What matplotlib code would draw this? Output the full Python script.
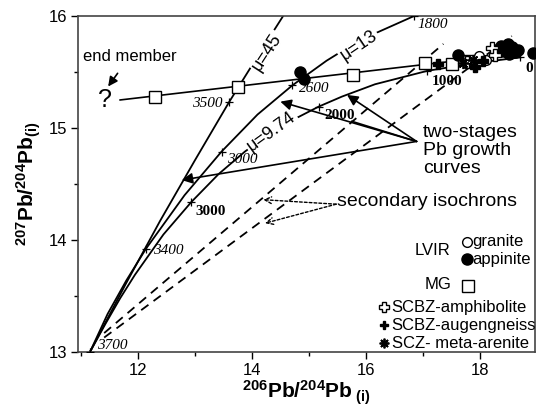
import matplotlib
matplotlib.use("Agg")
import matplotlib.pyplot as plt
from matplotlib.ticker import MultipleLocator

plt.rcParams["font.family"] = ["Liberation Sans", "DejaVu Sans"]
plt.rcParams["mathtext.fontset"] = "custom"
plt.rcParams["mathtext.rm"] = "Liberation Sans"
plt.rcParams["mathtext.it"] = "Liberation Sans:italic"
plt.rcParams["mathtext.bf"] = "Liberation Sans:bold"

# ---------- Pb growth curves (206Pb/204Pb, 207Pb/204Pb) ----------
mu45_x = [11.15, 11.77, 12.38, 12.99, 13.59, 14.19, 14.54]
mu45_y = [13.00, 13.60, 14.17, 14.71, 15.23, 15.72, 16.00]

mu13_x = [11.15, 11.46, 11.79, 12.13, 12.81, 13.46, 14.09, 14.70, 15.30, 15.87, 16.84]
mu13_y = [13.00, 13.34, 13.64, 13.92, 14.40, 14.79, 15.12, 15.38, 15.60, 15.78, 16.00]

mu974_x = [11.15, 11.42, 11.68, 11.94, 12.44, 12.93, 13.41, 13.87, 14.31, 14.74,
           15.16, 15.57, 16.15, 17.07, 17.92, 18.70]
mu974_y = [13.00, 13.25, 13.48, 13.69, 14.05, 14.34, 14.59, 14.79, 14.95, 15.08,
           15.19, 15.28, 15.39, 15.51, 15.58, 15.63]

# age ticks on the curves (Ma)
ages_it = ["3700", "3500", "3400", "3000", "2600", "1800"]
ages_it_x = [11.15, 13.59, 12.13, 13.46, 14.70, 16.84]
ages_it_y = [13.00, 15.23, 13.92, 14.79, 15.38, 16.00]
ages_bf = ["3000", "2000", "1000", "0"]
ages_bf_x = [12.93, 15.16, 17.07, 18.70]
ages_bf_y = [14.34, 15.19, 15.51, 15.63]

# secondary isochrons
iso1_x = [11.40, 17.35]
iso1_y = [13.17, 15.75]
iso2_x = [11.40, 18.55]
iso2_y = [13.13, 15.82]

# mixing line towards the unknown end member
mix_x = [11.68, 18.60]
mix_y = [15.25, 15.66]

# ---------- samples ----------
mg_x = [12.29, 13.74, 15.77, 17.03, 17.50, 17.80]
mg_y = [15.28, 15.37, 15.47, 15.58, 15.57, 15.60]

granite_x = [17.98, 18.10, 18.35]
granite_y = [15.64, 15.61, 15.68]

appinite_x = [14.84, 14.90, 17.61, 18.28, 18.36, 18.42, 18.48, 18.55, 18.60, 18.66, 18.50, 18.93]
appinite_y = [15.50, 15.44, 15.65, 15.70, 15.73, 15.69, 15.75, 15.72, 15.68, 15.70, 15.66, 15.67]

amphib_x = [17.76, 18.20, 18.26]
amphib_y = [15.59, 15.71, 15.65]

augen_x = [17.26, 17.91, 18.05]
augen_y = [15.57, 15.54, 15.60]

arenite_x = [17.70, 17.87]
arenite_y = [15.58, 15.61]

fig = plt.figure(figsize=(5.45, 4.08), dpi=100)
ax = fig.add_axes([0.143, 0.137, 0.839, 0.824])

lw = 1.3
ax.plot(mu45_x, mu45_y, color="black", lw=lw, zorder=2)
ax.plot(mu13_x, mu13_y, color="black", lw=lw, zorder=2)
ax.plot(mu974_x, mu974_y, color="black", lw=lw, zorder=2)
ax.plot(iso1_x, iso1_y, color="black", lw=1.3, ls=(0, (5, 3.5)), zorder=2)
ax.plot(iso2_x, iso2_y, color="black", lw=1.3, ls=(0, (5, 3.5)), zorder=2)
ax.plot(mix_x, mix_y, color="black", lw=1.2, zorder=2)

# age crosses
ax.plot(ages_it_x, ages_it_y, "+", color="black", ms=6, mew=0.9, zorder=3)
ax.plot(ages_bf_x, ages_bf_y, "+", color="black", ms=6, mew=0.9, zorder=3)

it_offsets = [(5, 5), (-5, -1), (5, -1), (4, -6), (5, -2), (2, -6)]
it_ha = ["left", "right", "left", "left", "left", "left"]
for lab, x, y, off, ha in zip(ages_it, ages_it_x, ages_it_y, it_offsets, it_ha):
    ax.annotate(lab, (x, y), xytext=off, textcoords="offset points", ha=ha, va="center",
                family="Liberation Serif", style="italic", fontsize=11, zorder=4)

bf_offsets = [(3, -7), (4, -6), (3, -8), (6, -8)]
bf_ha = ["left", "left", "left", "center"]
for lab, x, y, off, ha in zip(ages_bf, ages_bf_x, ages_bf_y, bf_offsets, bf_ha):
    ax.annotate(lab, (x, y), xytext=off, textcoords="offset points", ha=ha, va="center",
                family="Liberation Serif", weight="bold", fontsize=11, zorder=4)

# mu labels sitting on the curves
mu_box = dict(boxstyle="square,pad=0.1", fc="white", ec="none")
ax.text(14.25, 15.68, "μ=45", rotation=57, ha="center", va="center", fontsize=13,
        bbox=mu_box, zorder=3)
ax.text(15.86, 15.74, "μ=13", rotation=34, ha="center", va="center", fontsize=13,
        bbox=mu_box, zorder=3)
ax.text(14.33, 14.97, "μ=9.74", rotation=36, ha="center", va="center", fontsize=13,
        bbox=mu_box, zorder=3)

# samples
ax.plot(mg_x, mg_y, "s", mfc="white", mec="black", ms=9, mew=1.0, ls="none", zorder=5)
ax.plot(granite_x, granite_y, "o", mfc="white", mec="black", ms=7, mew=1.0, ls="none", zorder=5)
ax.plot(appinite_x, appinite_y, "o", color="black", ms=8, ls="none", zorder=5)
ax.plot(amphib_x, amphib_y, "P", mfc="white", mec="black", ms=8, mew=1.0, ls="none", zorder=5)
ax.plot(augen_x, augen_y, "P", color="black", ms=7, ls="none", zorder=5)
ax.plot(arenite_x, arenite_y, marker=(8, 2, 0), color="black", ms=8, mew=1.3, ls="none", zorder=5)

# end member
ax.text(11.42, 15.25, "?", fontsize=18, ha="center", va="center")
ax.annotate("end member", xy=(11.47, 15.37), xytext=(11.85, 15.64), ha="center", va="center",
            fontsize=12,
            arrowprops=dict(arrowstyle="-|>", color="black", lw=1.2, mutation_scale=14,
                            shrinkA=6, shrinkB=0))

# growth-curve pointers
ax.text(16.99, 14.80, "two-stages\nPb growth\ncurves", fontsize=14, ha="left", va="center",
        linespacing=1.1)
src = (16.88, 14.88)
for tip in [(12.76, 14.535), (14.49, 15.235), (15.66, 15.295)]:
    ax.annotate("", xy=tip, xytext=src,
                arrowprops=dict(arrowstyle="-|>", color="black", lw=1.2, mutation_scale=16,
                                shrinkA=0, shrinkB=0))
ax.annotate("", xy=(15.74, 15.06), xytext=src,
            arrowprops=dict(arrowstyle="-", color="black", lw=1.2, shrinkA=0, shrinkB=0))

# isochron pointers
ax.text(15.48, 14.34, "secondary isochrons", fontsize=14, ha="left", va="center")
for tip in [(14.19, 14.36), (14.22, 14.15)]:
    ax.annotate("", xy=tip, xytext=(15.47, 14.32),
                arrowprops=dict(arrowstyle="->", color="black", lw=1.0, ls=(0, (2, 1.5)),
                                mutation_scale=12, shrinkA=0, shrinkB=0))

# legend drawn by hand
ax.text(17.47, 13.91, "LVIR", fontsize=12, ha="right", va="center")
ax.plot(17.77, 13.985, "o", mfc="white", mec="black", ms=7, mew=1.0)
ax.text(17.86, 13.985, "granite", fontsize=12, ha="left", va="center")
ax.plot(17.77, 13.83, "o", color="black", ms=8)
ax.text(17.86, 13.83, "appinite", fontsize=12, ha="left", va="center")
ax.text(17.50, 13.60, "MG", fontsize=12, ha="right", va="center")
ax.plot(17.78, 13.59, "s", mfc="white", mec="black", ms=9, mew=1.0)
ax.plot(16.31, 13.40, "P", mfc="white", mec="black", ms=7, mew=1.0)
ax.text(16.44, 13.40, "SCBZ-amphibolite", fontsize=12, ha="left", va="center")
ax.plot(16.31, 13.24, "P", color="black", ms=6)
ax.text(16.44, 13.24, "SCBZ-augengneiss", fontsize=12, ha="left", va="center")
ax.plot(16.31, 13.08, marker=(8, 2, 0), color="black", ms=7, mew=1.3)
ax.text(16.44, 13.08, "SCZ- meta-arenite", fontsize=12, ha="left", va="center")

ax.set_xlim(10.94, 18.96)
ax.set_ylim(13, 16)
ax.xaxis.set_major_locator(MultipleLocator(2))
ax.xaxis.set_minor_locator(MultipleLocator(1))
ax.yaxis.set_major_locator(MultipleLocator(1))
ax.yaxis.set_minor_locator(MultipleLocator(0.5))
ax.tick_params(which="major", direction="out", length=5, width=1.0, labelsize=12, pad=3)
ax.tick_params(which="minor", direction="out", length=3, width=1.0)
for s in ax.spines.values():
    s.set_linewidth(1.2)
    s.set_color("#444444")

ax.set_xlabel(r"$\mathbf{{}^{206}Pb/{}^{204}Pb_{\ (i)}}$", fontsize=15, labelpad=0)
ax.set_ylabel(r"$\mathbf{{}^{207}Pb/{}^{204}Pb_{(i)}}$", fontsize=15, labelpad=4)

fig.savefig("out.png", dpi=100)
